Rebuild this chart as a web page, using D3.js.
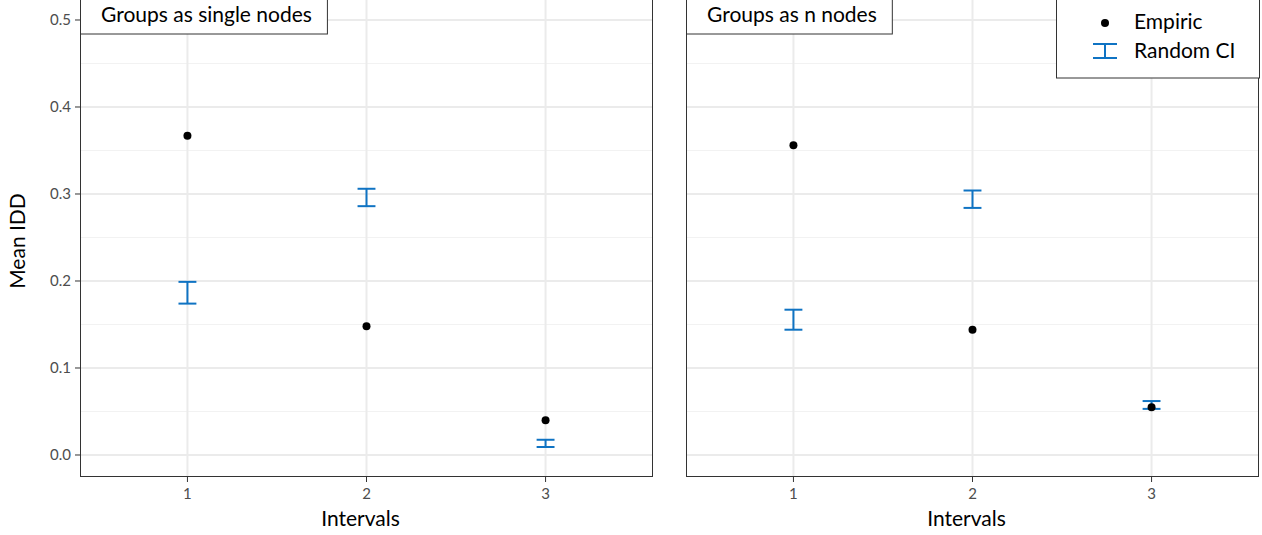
<!DOCTYPE html>
<html><head><meta charset="utf-8">
<script src="https://cdn.jsdelivr.net/npm/d3@7"></script>
<style>body{margin:0;background:#fff}</style>
</head><body>
<svg id="c" width="1262" height="535"></svg>
<script>
const intervals = [1, 2, 3];
const panelTitles = ["Groups as single nodes", "Groups as n nodes"];
const empiric = [[0.367, 0.148, 0.040], [0.356, 0.144, 0.055]];
const ciLow  = [[0.174, 0.286, 0.0092], [0.144, 0.284, 0.053]];
const ciHigh = [[0.199, 0.306, 0.0175], [0.167, 0.304, 0.062]];
const yTicks = [0.0, 0.1, 0.2, 0.3, 0.4, 0.5];
const yMinor = [0.05, 0.15, 0.25, 0.35, 0.45];
const legendLabels = ["Empiric", "Random CI"];

const blue = "#0f73c3";
const font = "Lato, 'Open Sans', sans-serif";
const svg = d3.select("#c");

const y = d3.scaleLinear().domain([-0.0253, 0.55]).range([477, 477 - 0.5753 * 870]);
const panels = [{x0: 80, x1: 653}, {x0: 686, x1: 1259}];

panels.forEach((p, i) => {
  const x = d3.scaleLinear().domain([0.4, 3.6]).range([p.x0, p.x1]);
  const g = svg.append("g");
  const top = -5, bottom = 477;
  g.append("rect").attr("x", p.x0).attr("y", top).attr("width", p.x1 - p.x0).attr("height", bottom - top).attr("fill", "#fff");
  g.selectAll(".ym").data(yMinor).enter().append("line")
    .attr("x1", p.x0).attr("x2", p.x1).attr("y1", d => y(d)).attr("y2", d => y(d))
    .attr("stroke", "#f2f2f2").attr("stroke-width", 1);
  g.selectAll(".yg").data(yTicks).enter().append("line")
    .attr("x1", p.x0).attr("x2", p.x1).attr("y1", d => y(d)).attr("y2", d => y(d))
    .attr("stroke", "#ebebeb").attr("stroke-width", 2);
  g.selectAll(".xg").data(intervals).enter().append("line")
    .attr("y1", top).attr("y2", bottom).attr("x1", d => x(d)).attr("x2", d => x(d))
    .attr("stroke", "#ebebeb").attr("stroke-width", 2);

  const w = 0.05;
  intervals.forEach((d, k) => {
    const lo = ciLow[i][k], hi = ciHigh[i][k];
    g.append("line").attr("x1", x(d)).attr("x2", x(d)).attr("y1", y(lo)).attr("y2", y(hi))
      .attr("stroke", blue).attr("stroke-width", 2);
    [lo, hi].forEach(v => g.append("line").attr("x1", x(d - w)).attr("x2", x(d + w))
      .attr("y1", y(v)).attr("y2", y(v)).attr("stroke", blue).attr("stroke-width", 2));
  });
  g.selectAll(".pt").data(intervals).enter().append("circle")
    .attr("cx", d => x(d)).attr("cy", (d, k) => y(empiric[i][k])).attr("r", 4).attr("fill", "#000");

  g.append("rect").attr("x", p.x0 + 0.5).attr("y", top).attr("width", p.x1 - p.x0 - 1).attr("height", bottom - top - 0.5)
    .attr("fill", "none").attr("stroke", "#333").attr("stroke-width", 1);

  g.selectAll(".xt").data(intervals).enter().append("line")
    .attr("x1", d => x(d)).attr("x2", d => x(d)).attr("y1", bottom).attr("y2", bottom + 5)
    .attr("stroke", "#333").attr("stroke-width", 1);
  g.selectAll(".xl").data(intervals).enter().append("text")
    .attr("x", d => x(d)).attr("y", bottom + 22).attr("text-anchor", "middle")
    .attr("font-family", font).attr("font-size", 15).attr("fill", "#4d4d4d").text(d => d);
  g.append("text").attr("x", (p.x0 + p.x1) / 2 - 6).attr("y", 526).attr("text-anchor", "middle")
    .attr("font-family", font).attr("font-size", 21).attr("fill", "#000").text("Intervals");

  const t = g.append("text").attr("x", p.x0 + 21).attr("y", 22)
    .attr("font-family", font).attr("font-size", 21).attr("fill", "#000").text(panelTitles[i]);
  const bw = t.node().getComputedTextLength() + 36;
  g.insert("rect", "text:last-of-type").attr("x", p.x0 + 0.5).attr("y", -2).attr("width", bw).attr("height", 36)
    .attr("fill", "#fff").attr("stroke", "#333").attr("stroke-width", 1);

  if (i === 0) {
    g.selectAll(".yt").data(yTicks).enter().append("line")
      .attr("x1", p.x0 - 5).attr("x2", p.x0).attr("y1", d => y(d)).attr("y2", d => y(d))
      .attr("stroke", "#333").attr("stroke-width", 1);
    g.selectAll(".yl").data(yTicks).enter().append("text")
      .attr("x", p.x0 - 9).attr("y", d => y(d) + 5).attr("text-anchor", "end")
      .attr("font-family", font).attr("font-size", 15).attr("fill", "#4d4d4d").text(d => d.toFixed(1));
  }
});

svg.append("text").attr("transform", "translate(25,241) rotate(-90)").attr("text-anchor", "middle")
  .attr("font-family", font).attr("font-size", 21).attr("fill", "#000").text("Mean IDD");

const lg = svg.append("g");
lg.append("rect").attr("x", 1056.5).attr("y", -2).attr("width", 203).attr("height", 80)
  .attr("fill", "#fff").attr("stroke", "#333").attr("stroke-width", 1);
lg.append("circle").attr("cx", 1105).attr("cy", 23).attr("r", 4).attr("fill", "#000");
const lx = 1105, ly = 51;
lg.append("line").attr("x1", lx).attr("x2", lx).attr("y1", ly - 7).attr("y2", ly + 7).attr("stroke", blue).attr("stroke-width", 2);
[ly - 7, ly + 7].forEach(v => lg.append("line").attr("x1", lx - 12).attr("x2", lx + 12).attr("y1", v).attr("y2", v).attr("stroke", blue).attr("stroke-width", 2));
legendLabels.forEach((l, k) => lg.append("text").attr("x", 1134).attr("y", 29 + k * 29)
  .attr("font-family", font).attr("font-size", 21).attr("fill", "#000").text(l));
</script>
</body></html>
